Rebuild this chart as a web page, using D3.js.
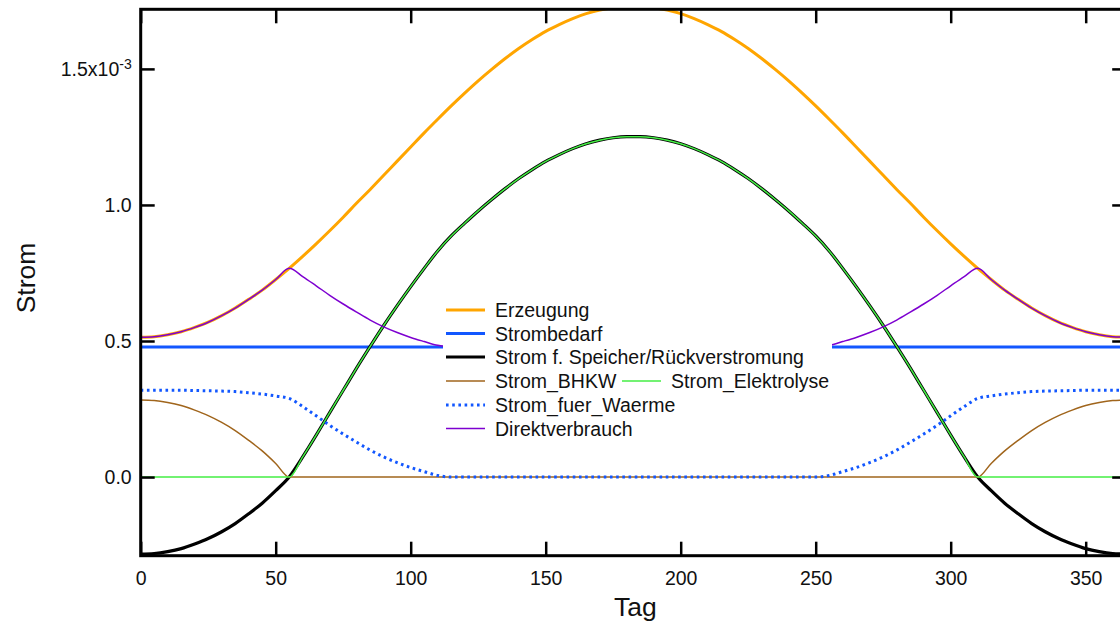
<!DOCTYPE html>
<html><head><meta charset="utf-8">
<script src="https://cdn.jsdelivr.net/npm/d3@7"></script>
<style>
html,body{margin:0;padding:0;background:#fff;}
svg{display:block;font-family:"Liberation Sans",Arial,sans-serif;}
</style></head>
<body>
<svg id="chart" width="1120" height="625"></svg>
<script>
// ---- data (values in units of 1e-3) ----
const days = [0,5,10,15,20,25,30,35,40,45,50,55,60,65,70,75,80,85,90,95,100,105,110,115,120,125,130,135,140,145,150,155,160,165,170,175,180,185,190,195,200,205,210,215,220,225,230,235,240,245,250,255,260,265,270,275,280,285,290,295,300,305,310,315,320,325,330,335,340,345,350,355,360,365];

const erzeugung = [0.514,0.516,0.523,0.534,0.550,0.569,0.593,0.621,0.653,0.687,0.726,0.767,0.811,0.857,0.905,0.955,1.007,1.057,1.109,1.161,1.213,1.265,1.315,1.364,1.411,1.456,1.498,1.538,1.575,1.608,1.638,1.663,1.685,1.703,1.716,1.725,1.729,
1.729,1.725,1.716,1.703,1.685,1.663,1.638,1.608,1.575,1.538,1.498,1.456,1.411,1.364,1.315,1.265,1.213,1.161,1.109,1.057,1.007,0.955,0.905,0.857,0.811,0.767,0.726,0.687,0.653,0.621,0.593,0.569,0.550,0.534,0.523,0.516,0.514];

const strombedarfDays = [0, 365];
const strombedarf = [0.478, 0.478];

const speicher = [-0.283,-0.281,-0.274,-0.263,-0.246,-0.226,-0.201,-0.171,-0.135,-0.096,-0.050,0.000,
0.074,0.154,0.237,0.319,0.401,0.480,0.557,0.630,0.700,0.767,0.831,0.886,0.933,0.978,1.020,1.060,1.097,1.130,1.160,1.185,1.207,1.225,1.238,1.247,1.251,
1.251,1.247,1.238,1.225,1.207,1.185,1.160,1.130,1.097,1.060,1.020,0.978,0.933,0.886,0.831,0.767,0.700,0.630,0.557,0.480,0.401,0.319,0.237,0.154,0.074,
0.000,-0.050,-0.096,-0.135,-0.171,-0.201,-0.226,-0.246,-0.263,-0.274,-0.281,-0.283];

const bhkw = [0.283,0.281,0.274,0.263,0.246,0.226,0.201,0.171,0.135,0.096,0.050,0.000,
0,0,0,0,0,0,0,0,0,0,0,0,0,0,0,0,0,0,0,0,0,0,0,0,0,
0,0,0,0,0,0,0,0,0,0,0,0,0,0,0,0,0,0,0,0,0,0,0,0,0,
0.000,0.050,0.096,0.135,0.171,0.201,0.226,0.246,0.263,0.274,0.281,0.283];

const elektrolyse = [0,0,0,0,0,0,0,0,0,0,0,0,
0.074,0.154,0.237,0.319,0.401,0.480,0.557,0.630,0.700,0.767,0.831,0.886,0.933,0.978,1.020,1.060,1.097,1.130,1.160,1.185,1.207,1.225,1.238,1.247,1.251,
1.251,1.247,1.238,1.225,1.207,1.185,1.160,1.130,1.097,1.060,1.020,0.978,0.933,0.886,0.831,0.767,0.700,0.630,0.557,0.480,0.401,0.319,0.237,0.154,0.074,
0,0,0,0,0,0,0,0,0,0,0,0];

const waerme = [0.319,0.319,0.319,0.319,0.318,0.317,0.316,0.314,0.310,0.305,0.298,0.289,0.259,0.225,0.190,0.158,0.128,0.099,0.074,0.053,0.035,0.020,0.006,
0,0,0,0,0,0,0,0,0,0,0,0,0,0,0,0,0,0,0,0,0,0,0,0,0,0,0,0,
0.006,0.020,0.035,0.053,0.074,0.099,0.128,0.158,0.190,0.225,0.259,0.289,0.298,0.305,0.310,0.314,0.316,0.317,0.318,0.319,0.319,0.319,0.319];

const direkt = [0.514,0.516,0.523,0.534,0.550,0.569,0.593,0.621,0.653,0.687,0.726,0.767,
0.737,0.703,0.668,0.636,0.606,0.577,0.552,0.531,0.513,0.498,0.484,
0.478,0.478,0.478,0.478,0.478,0.478,0.478,0.478,0.478,0.478,0.478,0.478,0.478,0.478,0.478,0.478,0.478,0.478,0.478,0.478,0.478,0.478,0.478,0.478,0.478,0.478,0.478,0.478,
0.484,0.498,0.513,0.531,0.552,0.577,0.606,0.636,0.668,0.703,0.737,
0.767,0.726,0.687,0.653,0.621,0.593,0.569,0.550,0.534,0.523,0.516,0.514];

const xTicks = [0,50,100,150,200,250,300,350];
const yTicks = [0,0.5,1.0,1.5];
const yTickLabels = ["0.0","0.5","1.0","1.5x10"];

const seriesNames = ["Erzeugung","Strombedarf","Strom f. Speicher/Rückverstromung","Strom_BHKW","Strom_Elektrolyse","Strom_fuer_Waerme","Direktverbrauch"];

// ---- layout ----
const L = 140.7, R = 1126.2, T = 9.3, B = 555.7;
const svg = d3.select("#chart");
const x = d3.scaleLinear().domain([0,365]).range([L,R]);
const y = d3.scaleLinear().domain([-0.289,1.719]).range([B,T]);

const styles = [
  {color:"#FFA500", w:3},
  {color:"#1257FF", w:3},
  {color:"#000000", w:3.2},
  {color:"#A0651C", w:1.5},
  {color:"#44EE44", w:1.5},
  {color:"#1257FF", w:3, dash:"2.6 3.6"},
  {color:"#7D00D0", w:1.5}
];

svg.append("defs").append("clipPath").attr("id","clip")
  .append("rect").attr("x",L).attr("y",T).attr("width",R-L).attr("height",B-T);

const plot = svg.append("g").attr("clip-path","url(#clip)");
const line = (xs, ys) => d3.line().curve(d3.curveMonotoneX)
  .x((d,i)=>x(xs[i])).y((d,i)=>y(ys[i]))(ys);

const seriesData = [
  [days, erzeugung],
  [strombedarfDays, strombedarf],
  [days, speicher],
  [days, bhkw],
  [days, elektrolyse],
  [days, waerme],
  [days, direkt]
];
seriesData.forEach(([xs, ys], i) => {
  const s = styles[i];
  plot.append("path").attr("d", line(xs, ys))
    .attr("fill","none").attr("stroke",s.color).attr("stroke-width",s.w)
    .attr("stroke-linejoin","round")
    .attr("stroke-dasharray", s.dash || null);
});

// ---- axes ----
const fs = 19.5;
const gl = svg.append("g").attr("transform",`translate(${L},0)`)
  .call(d3.axisLeft(y).tickValues(yTicks).tickSize(-14).tickPadding(9)
    .tickFormat((d,i)=>yTickLabels[i]));
const gr = svg.append("g").attr("transform",`translate(${R},0)`)
  .call(d3.axisRight(y).tickValues(yTicks).tickSize(-14).tickFormat(""));
const gb = svg.append("g").attr("transform",`translate(0,${B})`)
  .call(d3.axisBottom(x).tickValues(xTicks).tickSize(-14).tickPadding(15).tickFormat(d3.format("d")));
const gt = svg.append("g").attr("transform",`translate(0,${T})`)
  .call(d3.axisTop(x).tickValues(xTicks).tickSize(-14).tickFormat(""));
[gl,gr,gb,gt].forEach(g=>{
  g.select(".domain").remove();
  g.selectAll(".tick line").attr("stroke","#000").attr("stroke-width",2.5);
  g.selectAll("text").attr("font-size",fs).attr("font-family","'Liberation Sans',Arial,sans-serif").attr("fill","#111");
});
// superscript exponent on the top label
gl.selectAll(".tick text").filter((d)=>d===1.5)
  .append("tspan").attr("dy","-0.5em").attr("font-size",14).text("-3");

svg.append("rect").attr("x",L).attr("y",T).attr("width",R-L).attr("height",B-T)
  .attr("fill","none").attr("stroke","#000").attr("stroke-width",3);

// axis titles
svg.append("text").attr("x",(L+R)/2 + 2).attr("y",616).attr("text-anchor","middle")
  .attr("font-size",26.5).attr("fill","#111").text("Tag");
svg.append("text").attr("transform","translate(35,278) rotate(-90)").attr("text-anchor","middle")
  .attr("font-size",26.5).attr("fill","#111").text("Strom");

// ---- legend ----
const lg = svg.append("g");
lg.append("rect").attr("x",443).attr("y",295).attr("width",389).attr("height",146).attr("fill","#fff");
const legendPos = [
  {x:446, y:310}, {x:446, y:333.5}, {x:446, y:357},
  {x:446, y:381}, {x:622, y:381}, {x:446, y:405}, {x:446, y:428.5}
];
seriesNames.forEach((name,i)=>{
  const p = legendPos[i], s = styles[i];
  lg.append("line").attr("x1",p.x).attr("x2",p.x+39).attr("y1",p.y).attr("y2",p.y)
    .attr("stroke",s.color).attr("stroke-width",s.w).attr("stroke-dasharray",s.dash||null);
  lg.append("text").attr("x",i===4 ? p.x+49 : p.x+49).attr("y",p.y).attr("dy","0.36em")
    .attr("font-size",fs).attr("fill","#111").text(name);
});
</script>
</body></html>
